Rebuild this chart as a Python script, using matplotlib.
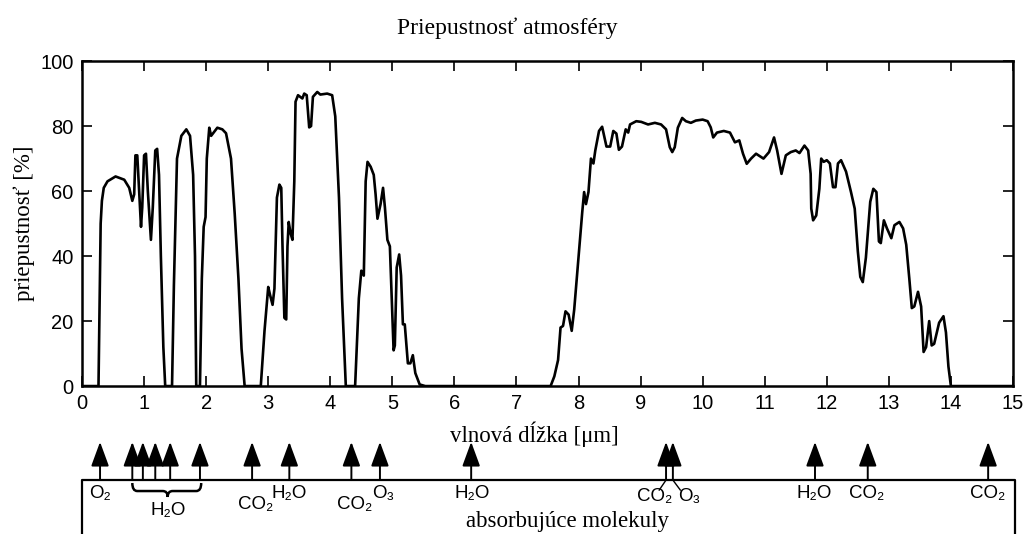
import numpy as np
import matplotlib.pyplot as plt
from matplotlib.path import Path
from matplotlib.patches import PathPatch

# Transmittance of the atmosphere (wavelength in um, transmittance in %)
wl = [0.0, 0.265, 0.30, 0.32, 0.35, 0.41, 0.54, 0.68, 0.76, 0.81, 0.84, 0.86, 0.89, 0.92, 0.95, 0.97,
      1.0, 1.03, 1.06, 1.11, 1.14, 1.18, 1.21, 1.24, 1.27, 1.31, 1.34,
      1.45, 1.48, 1.53, 1.60, 1.68, 1.74, 1.79, 1.82, 1.84,
      1.90, 1.93, 1.96, 1.99, 2.01, 2.05, 2.08, 2.12, 2.18, 2.26, 2.32, 2.40, 2.46, 2.52, 2.57, 2.62,
      2.88, 2.94, 3.0, 3.03, 3.07, 3.10, 3.14, 3.18, 3.21, 3.23, 3.26, 3.29, 3.31, 3.33, 3.36, 3.39,
      3.42, 3.44, 3.48, 3.55, 3.58, 3.62, 3.66, 3.69, 3.72, 3.79, 3.84, 3.95, 4.03, 4.08, 4.14, 4.19, 4.25,
      4.40, 4.46, 4.50, 4.54, 4.57, 4.60, 4.65, 4.70, 4.73, 4.76, 4.81, 4.85, 4.88, 4.92, 4.96, 4.99,
      5.02, 5.04, 5.07, 5.11, 5.14, 5.17, 5.20, 5.25, 5.29, 5.33, 5.37, 5.44, 5.53,
      7.55, 7.61, 7.67, 7.71, 7.75, 7.79, 7.84, 7.89, 7.93, 8.0, 8.06, 8.09, 8.12, 8.16, 8.20, 8.24,
      8.27, 8.33, 8.38, 8.45, 8.51, 8.56, 8.61, 8.65, 8.70, 8.76, 8.80, 8.83, 8.93, 9.01, 9.12, 9.23,
      9.33, 9.41, 9.47, 9.51, 9.55, 9.60, 9.67, 9.73, 9.81, 9.89, 10.0, 10.08, 10.13, 10.17, 10.23,
      10.34, 10.44, 10.52, 10.59, 10.65, 10.71, 10.78, 10.86, 10.98, 11.07, 11.15, 11.20, 11.27, 11.34,
      11.42, 11.50, 11.56, 11.64, 11.70, 11.74, 11.75, 11.78, 11.83, 11.88, 11.91, 11.95, 12.0, 12.05,
      12.10, 12.14, 12.18, 12.23, 12.31, 12.39, 12.45, 12.50, 12.54, 12.58, 12.63, 12.70, 12.75, 12.80,
      12.84, 12.87, 12.92, 12.97, 13.04, 13.09, 13.17, 13.23, 13.28, 13.33, 13.37, 13.41, 13.47, 13.52,
      13.56, 13.60, 13.65, 13.69, 13.73, 13.81, 13.88, 13.92, 13.96, 14.0, 15.0]
tr = [0, 0, 50, 57, 61, 63, 64.5, 63.5, 61, 57, 59, 71, 71, 60, 49, 55,
      71, 71.5, 60, 45, 55, 72.5, 73, 65, 40, 12, 0,
      0, 31, 70, 77, 79, 77, 65, 40, 0,
      0, 33, 49, 52, 70, 79.5, 77, 78, 79.5, 79, 77.8, 70, 53, 33, 11.5, 0,
      0, 17, 30.5, 28, 25, 30, 58, 62, 61, 43, 21, 20.5, 43, 50.5, 47, 45,
      63, 87.5, 89.5, 88.5, 90, 89.5, 79.6, 80, 89, 90.5, 89.7, 90, 89.5, 83, 58, 27, 0,
      0, 27, 35.5, 34, 63, 69, 67.5, 65, 59, 51.5, 56, 61, 55, 45, 43, 27,
      11, 12.5, 36.5, 40.5, 34, 19, 19, 7, 7, 9.5, 4, 0.5, 0,
      0, 3, 8, 18, 18.5, 23, 22, 17, 23.5, 39.7, 53.6, 59.7, 56, 59.7, 70, 68.5,
      72.5, 78.5, 79.8, 73.7, 73.7, 78.5, 77.7, 72.7, 73.7, 79, 78, 80.5, 81.5, 81.3, 80.5, 81,
      80.5, 79, 73.5, 72, 73.5, 79.5, 82.5, 81.5, 81, 81.7, 82, 81.5, 79.6, 76.5, 78,
      78.5, 78, 75, 75.6, 71.5, 68.4, 70, 71.5, 70, 72, 76.5, 72.5, 65.3, 71,
      72, 72.5, 71.7, 74, 72.5, 65.3, 54.6, 51, 52.5, 60.7, 70, 69, 69.5, 68.5,
      61.2, 61.2, 68.5, 69.5, 66, 59.7, 54.6, 41.5, 33.6, 32, 39.5, 56.7, 60.7, 59.7,
      44.5, 44, 51, 48.5, 45.5, 49.5, 50.5, 48.5, 43.5, 33, 24, 24.5, 29, 24.5,
      10.5, 12, 20, 12.5, 13, 19.5, 21.5, 16.5, 6, 0, 0]

# absorption bands (arrows under the plot)
arrow_x = [0.29, 0.81, 0.98, 1.18, 1.42, 1.90, 2.74, 3.34, 4.34, 4.80, 6.27, 9.41, 9.52, 11.81, 12.66, 14.6]

# molecule labels: text, x position [um], row
mol_text = ['O\u2082', 'CO\u2082', 'H\u2082O', 'CO\u2082', 'O\u2083', 'H\u2082O',
            'H\u2082O', 'CO\u2082', 'CO\u2082']
mol_x = [0.29, 2.80, 3.33, 4.40, 4.86, 6.28, 11.80, 12.64, 14.60]
mol_row = ['hi', 'lo', 'hi', 'lo', 'hi', 'hi', 'hi', 'hi', 'hi']

plt.rcParams['font.family'] = ['Liberation Sans', 'DejaVu Sans']
serif = ['Liberation Serif', 'DejaVu Serif']

fig = plt.figure(figsize=(10.23, 5.34), dpi=100)
ax = fig.add_axes([0.0802, 0.277, 0.910, 0.6086])

ax.plot(wl, tr, color='black', lw=1.9, solid_joinstyle='round')
ax.set_xlim(0, 15)
ax.set_ylim(0, 100)
ax.set_xticks(range(0, 16))
ax.set_yticks(range(0, 101, 20))
ax.tick_params(direction='in', length=7, width=1.2, top=True, right=True,
               labelsize=14.5, pad=6)
for s in ax.spines.values():
    s.set_linewidth(1.8)

ax.set_xlabel('vlnová dĺžka [\u03bcm]', fontsize=16.5, family=serif, labelpad=1)
ax.xaxis.set_label_coords(0.486, -0.11)
ax.set_ylabel('priepustnosť [%]', fontsize=16.5, family=serif, labelpad=4)
fig.text(0.496, 0.947, 'Priepustnosť atmosféry', ha='center', va='center',
         fontsize=17, family=serif)

# lower panel: arrows and the box with absorbing molecules
ax2 = fig.add_axes([0.0802, 0.0, 0.910, 99 / 534])
ax2.set_xlim(0, 15)
ax2.set_ylim(0, 1)
ax2.axis('off')
box_top = 0.545
ax2.plot([0, 0, 15.03, 15.03], [-0.1, box_top, box_top, -0.1], color='black', lw=1.6,
         clip_on=False)

for x in arrow_x:
    ax2.annotate('', xy=(x, 0.93), xytext=(x, box_top), annotation_clip=False,
                 arrowprops=dict(arrowstyle='-|>,head_length=1.5,head_width=0.55',
                                 color='black', lw=1.4, shrinkA=0, shrinkB=0))

rows = {'hi': 0.414, 'lo': 0.30}
for t, x, r in zip(mol_text, mol_x, mol_row):
    ax2.text(x, rows[r], t, ha='center', va='center', fontsize=13.5)

# curly brace under the H2O group
x0, x1, xm = 0.81, 1.92, 1.38
yt, yb, yp = 0.515, 0.434, 0.374
verts = [(x0, yt), (x0, yb), (x0 + 0.08, yb), (xm - 0.08, yb), (xm, yb), (xm, yp),
         (xm, yb), (xm + 0.08, yb), (x1 - 0.08, yb), (x1, yb), (x1, yt)]
codes = [Path.MOVETO, Path.CURVE3, Path.CURVE3, Path.LINETO, Path.CURVE3, Path.CURVE3,
         Path.CURVE3, Path.CURVE3, Path.LINETO, Path.CURVE3, Path.CURVE3]
ax2.add_patch(PathPatch(Path(verts, codes), fill=False, lw=1.8, color='black'))
ax2.text(xm, 0.24, 'H\u2082O', ha='center', va='center', fontsize=13.5)

# CO2 / O3 pair near 9.5 um with leader lines
ax2.plot([9.41, 9.30], [box_top, 0.444], color='black', lw=1)
ax2.plot([9.52, 9.64], [box_top, 0.444], color='black', lw=1)
ax2.text(9.23, 0.374, 'CO\u2082', ha='center', va='center', fontsize=13.5)
ax2.text(9.78, 0.374, 'O\u2083', ha='center', va='center', fontsize=13.5)

ax2.text(7.82, 0.13, 'absorbujúce molekuly', ha='center', va='center', fontsize=16.5,
         family=serif)

fig.savefig('out.png', dpi=100)
